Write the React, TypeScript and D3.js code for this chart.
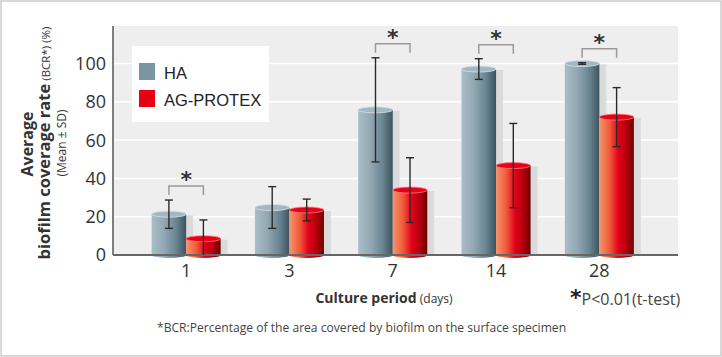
import React from "react";
import * as d3 from "d3";

const days = ["1", "3", "7", "14", "28"];
const series = ["HA", "AG-PROTEX"];
const haMean = [21.3, 24.8, 75.8, 97.1, 100];
const haSD = [7.4, 10.9, 27.2, 5.4, 0.4];
const agMean = [8.5, 23.5, 33.9, 46.7, 72];
const agSD = [9.8, 5.7, 16.9, 22, 15.4];
const significant = [true, false, true, true, true];
const yTicks = [0, 20, 40, 60, 80, 100];

const W = 722;
const H = 357;
const plotL = 113;
const plotR = 678;
const plotT = 26;
const plotB = 255;
const FONT = "'Open Sans', 'Noto Sans', sans-serif";

export default function App() {
  const y = d3.scaleLinear().domain([0, 100]).range([plotB, plotB - 191.5]);
  const x = d3.scaleBand<string>().domain(days).range([134.5, 651]).padding(0);
  const barW = 34.5;
  const sub = d3
    .scaleBand<string>()
    .domain(series)
    .range([x.bandwidth() / 2 - barW, x.bandwidth() / 2 + barW]);

  const data = days.map((d, i) => ({
    day: d,
    bars: [
      { s: series[0], m: haMean[i], sd: haSD[i] },
      { s: series[1], m: agMean[i], sd: agSD[i] },
    ],
    sig: significant[i],
  }));

  const ry = 3;

  return (
    <svg width={W} height={H} style={{ display: "block", position: "absolute", left: 0, top: 0 }}>
      <defs>
        <linearGradient id="gHA" x1="0" x2="1" y1="0" y2="0">
          <stop offset="0%" stopColor="#a9bdc7" />
          <stop offset="35%" stopColor="#92a9b5" />
          <stop offset="70%" stopColor="#6b8592" />
          <stop offset="100%" stopColor="#3c5460" />
        </linearGradient>
        <linearGradient id="gAG" x1="0" x2="1" y1="0" y2="0">
          <stop offset="0%" stopColor="#f4956d" />
          <stop offset="30%" stopColor="#ef5a3a" />
          <stop offset="55%" stopColor="#e3001a" />
          <stop offset="80%" stopColor="#b0000c" />
          <stop offset="100%" stopColor="#6a0000" />
        </linearGradient>
        <linearGradient id="gShadow" x1="0" x2="1" y1="0" y2="0">
          <stop offset="0%" stopColor="#c8c8c8" />
          <stop offset="100%" stopColor="#dcdcdc" />
        </linearGradient>
      </defs>
      <rect x={0} y={0} width={W} height={H} fill="#ffffff" />
      <rect x={1} y={1} width={W - 2} height={H - 2} fill="none" stroke="#cccccc" strokeWidth={1.5} />

      {/* plot bg */}
      <rect x={plotL} y={plotT} width={plotR - plotL} height={plotB - plotT} fill="#eeeeee" />
      {yTicks.slice(1).map((t) => (
        <line key={t} x1={plotL} x2={plotR} y1={y(t)} y2={y(t)} stroke="#ffffff" strokeWidth={1.5} />
      ))}

      {/* legend */}
      <rect x={132} y={46} width={137} height={76} fill="#ffffff" />
      <rect x={139} y={63} width={16} height={17} fill="#7b95a3" />
      <text x={164} y={79} fontFamily="'Liberation Sans', Arial, sans-serif" fontSize={16.5} fill="#222">
        {series[0]}
      </text>
      <rect x={139} y={90} width={16} height={17} fill="#e60012" />
      <text x={164} y={106} fontFamily="'Liberation Sans', Arial, sans-serif" fontSize={16.5} fill="#222">
        {series[1]}
      </text>

      {/* shadows */}
      {data.map((g) =>
        g.bars.map((b) => {
          const bx = (x(g.day) as number) + (sub(b.s) as number);
          return (
            <rect
              key={"sh" + g.day + b.s}
              x={bx + 7}
              y={y(b.m) + 1}
              width={barW}
              height={plotB - y(b.m) - 1}
              fill="url(#gShadow)"
            />
          );
        })
      )}

      {/* bars */}
      {data.map((g) =>
        g.bars.map((b, j) => {
          const bx = (x(g.day) as number) + (sub(b.s) as number);
          const yt = y(b.m);
          const grad = j === 0 ? "url(#gHA)" : "url(#gAG)";
          const topFill = j === 0 ? "#a3b7c1" : "#e8001a";
          const rim = j === 0 ? "#d5e0e5" : "#ff7a7a";
          return (
            <g key={"b" + g.day + b.s}>
              <ellipse cx={bx + barW / 2} cy={plotB} rx={barW / 2} ry={ry} fill={grad} />
              <rect x={bx} y={yt} width={barW} height={plotB - yt} fill={grad} />
              <ellipse cx={bx + barW / 2} cy={yt} rx={barW / 2} ry={ry} fill={topFill} stroke={rim} strokeWidth={0.8} />
            </g>
          );
        })
      )}

      {/* axes */}
      <line x1={plotL} x2={plotL} y1={plotT} y2={plotB} stroke="#555" strokeWidth={1.5} />
      <line x1={plotL} x2={plotR} y1={plotB} y2={plotB} stroke="#666" strokeWidth={2} />

      {/* error bars */}
      {data.map((g) =>
        g.bars.map((b) => {
          const cx = (x(g.day) as number) + (sub(b.s) as number) + barW / 2;
          const hi = y(b.m + b.sd);
          const lo = y(Math.max(0, b.m - b.sd));
          return (
            <g key={"e" + g.day + b.s} stroke="#2a2a2a" strokeWidth={1.4}>
              <line x1={cx} x2={cx} y1={hi} y2={lo} />
              <line x1={cx - 4} x2={cx + 4} y1={hi} y2={hi} />
              {b.m - b.sd > 0 && <line x1={cx - 4} x2={cx + 4} y1={lo} y2={lo} />}
            </g>
          );
        })
      )}

      {/* significance brackets */}
      {data
        .filter((g) => g.sig)
        .map((g) => {
          const c0 = (x(g.day) as number) + (sub(series[0]) as number) + barW / 2;
          const c1 = (x(g.day) as number) + (sub(series[1]) as number) + barW / 2;
          const top = Math.min(...g.bars.map((b) => y(b.m + b.sd))) - 14;
          return (
            <g key={"s" + g.day}>
              <path
                d={`M${c0},${top + 9}V${top}H${c1}V${top + 9}`}
                fill="none"
                stroke="#9a9a9a"
                strokeWidth={1.5}
              />
              <text
                x={(c0 + c1) / 2}
                y={top + 1}
                textAnchor="middle"
                fontFamily="'DejaVu Sans', sans-serif"
                fontWeight="bold"
                fontSize={22}
                fill="#333"
              >
                *
              </text>
            </g>
          );
        })}

      {/* y tick labels */}
      {yTicks.map((t) => (
        <text
          key={"yt" + t}
          x={106}
          y={y(t)}
          dy="0.36em"
          textAnchor="end"
          fontFamily={FONT}
          fontSize={18}
          fill="#333"
        >
          {t}
        </text>
      ))}

      {/* x tick labels */}
      {days.map((d) => (
        <text
          key={"xt" + d}
          x={(x(d) as number) + x.bandwidth() / 2}
          y={277}
          textAnchor="middle"
          fontFamily={FONT}
          fontSize={18}
          fill="#333"
        >
          {d}
        </text>
      ))}

      {/* y axis title */}
      <g fontFamily={FONT} fill="#333">
        <text transform="translate(33,144) rotate(-90)" textAnchor="middle" fontWeight="bold" fontSize={16}>
          Average
        </text>
        <text transform="translate(49.5,143) rotate(-90)" textAnchor="middle" fontWeight="bold" fontSize={16.5}>
          biofilm coverage rate
          <tspan fontWeight="normal" fontSize={11.5}> (BCR*) (%)</tspan>
        </text>
        <text transform="translate(66,143) rotate(-90)" textAnchor="middle" fontSize={12}>
          (Mean ± SD)
        </text>
      </g>

      {/* x axis title */}
      <text x={384} y={303} textAnchor="middle" fontFamily={FONT} fill="#333">
        <tspan fontWeight="bold" fontSize={14}>Culture period</tspan>
        <tspan fontSize={12}> (days)</tspan>
      </text>

      {/* p-value note */}
      <text x={570} y={305} fontFamily={FONT} fill="#444">
        <tspan fontFamily="'DejaVu Sans', sans-serif" fontWeight="bold" fontSize={22} fill="#222">*</tspan>
        <tspan fontSize={16} dx={0}>P&lt;0.01(t-test)</tspan>
      </text>

      {/* footnote */}
      <text x={157} y={332} fontFamily={FONT} fontSize={12.1} fill="#444">
        *BCR:Percentage of the area covered by biofilm on the surface specimen
      </text>
    </svg>
  );
}
